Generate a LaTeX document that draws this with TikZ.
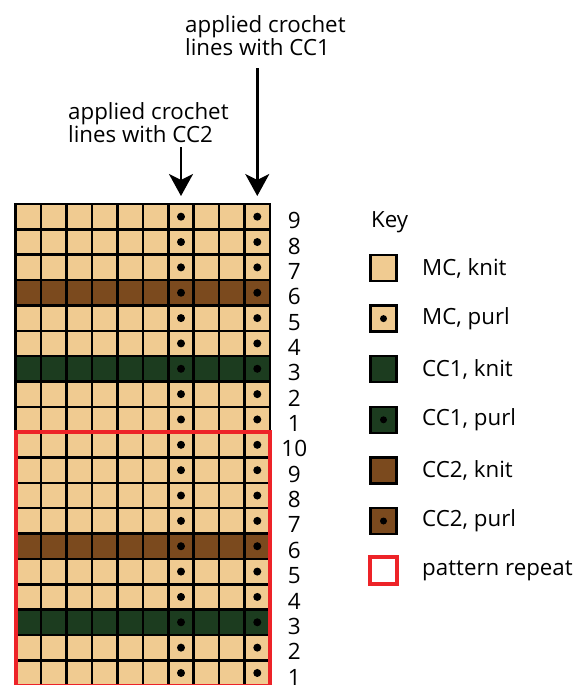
\documentclass[tikz,border=0pt]{standalone}
\usepackage{fontspec}
\setmainfont{Open Sans}
\usepackage{tikz}
\definecolor{yarnmc}{RGB}{240, 203, 145}
\definecolor{yarnccone}{RGB}{28, 60, 31}
\definecolor{yarncctwo}{RGB}{123, 74, 30}
\definecolor{repeatred}{RGB}{237, 35, 40}
\usetikzlibrary{
  arrows.meta,
  calc,
  positioning,
}
\tikzset{
  >={Stealth[length=22pt,width=24pt,inset=6pt]},
  stitch/.style={draw,rectangle,line width=2.5pt,minimum width=25.43pt,minimum height=25.35pt,inner sep=0,outer sep=0},
  keybox/.style={draw,rectangle,line width=2.5pt,minimum size=26pt,inner sep=0,outer sep=0},
  purl/.style={path picture={\fill[black] (path picture bounding box.center) circle (3.5pt);}},
  rownum/.style={inner sep=0,font=\fontsize{22.5}{26}\selectfont},
  keytext/.style={inner sep=0,anchor=west,font=\fontsize{22.3}{25}\selectfont},
  note/.style={inner sep=0,align=left,font=\fontsize{22.3}{23.5}\selectfont},
}

\begin{document}
\begin{tikzpicture}[x=1pt,y=-1pt]
      \useasboundingbox (0,0) rectangle (582,685);

      % chart, rows from the top
      \foreach \lab/\col [count=\r] in {9/yarnmc,8/yarnmc,7/yarnmc,6/yarncctwo,5/yarnmc,4/yarnmc,3/yarnccone,2/yarnmc,1/yarnmc,10/yarnmc,9/yarnmc,8/yarnmc,7/yarnmc,6/yarncctwo,5/yarnmc,4/yarnmc,3/yarnccone,2/yarnmc,1/yarnmc} {
        \foreach \c in {1,...,10} {
          \node[stitch,fill=\col] (s-\r-\c) at ({15.7+(\c-0.5)*25.43},{204+(\r-0.5)*25.35}) {};
        }
        \fill (s-\r-7) circle (4pt);
        \fill (s-\r-10) circle (4pt);
        \node[rownum] (n-\r) at ($(s-\r-10.center)+(37,4)$) {\lab};
      }

      \draw[repeatred,line width=4pt] (s-10-1.north west) rectangle (s-19-10.south east);

      % crochet lines
      \node[note,anchor=north west] (cc1) at (185,15) {applied crochet\\lines with CC1};
      \node[note,anchor=north west] (cc2) at (68,102) {applied crochet\\lines with CC2};
      \coordinate (t7) at ([yshift=8pt]s-1-7.north);
      \coordinate (t10) at ([yshift=8pt]s-1-10.north);
      \draw[->,line width=2.5pt,shorten <=4pt] (cc2.south -| t7) -- (t7);
      \draw[->,line width=2.5pt,shorten <=12pt] (cc1.south -| t10) -- (t10);

      % key
      \node[inner sep=0,anchor=west,font=\fontsize{22.3}{25}\selectfont] (key) at (371,222) {Key};
      \node[keybox,fill=yarnmc]          (k1) at (383.5,268) {};
      \node[keybox,fill=yarnmc,purl]     (k2) [below=24.6pt of k1] {};
      \node[keybox,fill=yarnccone]       (k3) [below=24.6pt of k2] {};
      \node[keybox,fill=yarnccone,purl]  (k4) [below=24.6pt of k3] {};
      \node[keybox,fill=yarncctwo]       (k5) [below=24.6pt of k4] {};
      \node[keybox,fill=yarncctwo,purl]  (k6) [below=24.6pt of k5] {};
      \node[keybox,draw=repeatred,line width=4pt,minimum size=27pt,fill=white] (k7) [below=23.4pt of k6] {};

      \node[keytext] (l1) at ([xshift=38.5pt]k1.center) {MC, knit};
      \node[keytext] (l2) at ([xshift=38.5pt]k2.center) {MC, purl};
      \node[keytext] (l3) at ([xshift=38.5pt]k3.center) {CC1, knit};
      \node[keytext] (l4) at ([xshift=38.5pt]k4.center) {CC1, purl};
      \node[keytext] (l5) at ([xshift=38.5pt]k5.center) {CC2, knit};
      \node[keytext] (l6) at ([xshift=38.5pt]k6.center) {CC2, purl};
      \node[keytext] (l7) at ([xshift=38.5pt]k7.center) {pattern repeat};
    \end{tikzpicture}
\end{document}
